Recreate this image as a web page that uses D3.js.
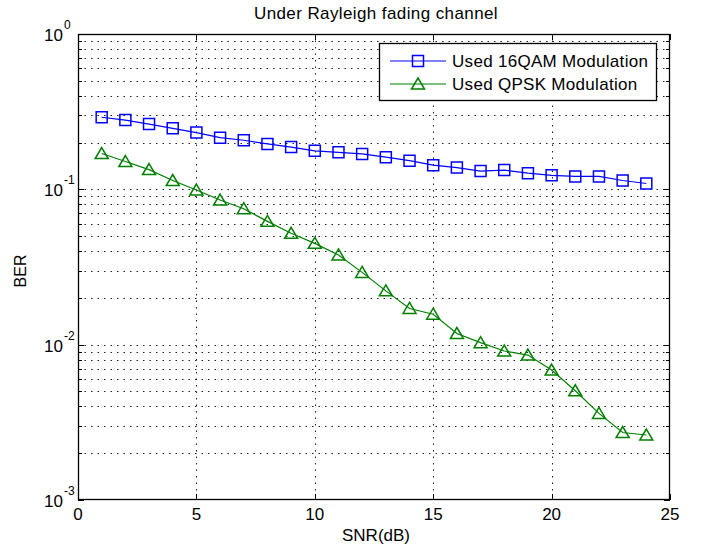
<!DOCTYPE html>
<html><head><meta charset="utf-8">
<script src="https://cdn.jsdelivr.net/npm/d3@7"></script>
<style>body{margin:0;background:#fff}svg{display:block}text{font-family:"Liberation Sans",Arial,sans-serif;fill:#000}</style>
</head><body><svg id="c" width="702" height="549"></svg>
<script>
const snr = [1,2,3,4,5,6,7,8,9,10,11,12,13,14,15,16,17,18,19,20,21,22,23,24];
const ber16qam = [0.291,0.279,0.263,0.247,0.232,0.215,0.207,0.196,0.187,0.177,0.173,0.169,0.161,0.153,0.143,0.138,0.131,0.133,0.127,0.123,0.121,0.121,0.114,0.109];
const berQpsk = [0.170,0.151,0.134,0.114,0.099,0.0853,0.0750,0.0622,0.0521,0.0449,0.0378,0.0292,0.0222,0.0171,0.0157,0.0118,0.0103,0.0091,0.00857,0.00686,0.00505,0.00361,0.00272,0.00262];
const xTicks = [0,5,10,15,20,25];
const yDecades = [0,-1,-2,-3];
const seriesNames = ["Used 16QAM Modulation","Used QPSK Modulation"];
const titleText = "Under Rayleigh fading channel";

const svg = d3.select("#c");
const L=78,R=670,T=34,B=500;
const x = d3.scaleLinear().domain([0,25]).range([L,R]);
const y = d3.scaleLog().domain([1e-3,1]).range([B,T]);
const g = svg.append("g");

const minors=[];
for(let e=-3;e<0;e++) for(let m=1;m<=9;m++) minors.push(m*Math.pow(10,e));
minors.push(1);

// grid
const grid = g.append("g").attr("stroke","#222").attr("stroke-width",1).attr("stroke-dasharray","1.5,5");
minors.forEach(v=>{ if(v>=1||v<=1e-3) return; grid.append("line").attr("x1",L).attr("x2",R).attr("y1",Math.round(y(v))+0.5).attr("y2",Math.round(y(v))+0.5);});
xTicks.slice(1,-1).forEach(v=>grid.append("line").attr("x1",Math.round(x(v))+0.5).attr("x2",Math.round(x(v))+0.5).attr("y1",T).attr("y2",B));

// ticks
const tk = g.append("g").attr("stroke","#000").attr("stroke-width",1);
xTicks.forEach(v=>{const px=Math.round(x(v))+0.5; tk.append("line").attr("x1",px).attr("x2",px).attr("y1",B).attr("y2",B-6); tk.append("line").attr("x1",px).attr("x2",px).attr("y1",T).attr("y2",T+6);});
minors.forEach(v=>{const py=Math.round(y(v))+0.5; const isMaj=Math.abs(Math.log10(v)-Math.round(Math.log10(v)))<1e-9; const len=isMaj?6:4;
 tk.append("line").attr("x1",L).attr("x2",L+len).attr("y1",py).attr("y2",py); tk.append("line").attr("x1",R).attr("x2",R-len).attr("y1",py).attr("y2",py);});

// box
g.append("rect").attr("x",L+0.5).attr("y",T+0.5).attr("width",R-L-1).attr("height",B-T-1).attr("fill","none").attr("stroke","#000").attr("stroke-width",1.3);

// x tick labels
xTicks.forEach(v=>g.append("text").attr("x",x(v)).attr("y",520).attr("text-anchor","middle").attr("font-size",17).text(v));
// y tick labels
yDecades.forEach(e=>{const py=y(Math.pow(10,e));
 g.append("text").attr("x",63).attr("y",py+7).attr("text-anchor","end").attr("font-size",17).text("10");
 g.append("text").attr("x",64).attr("y",py-5).attr("font-size",12).text(String(e));
});

// title & labels
g.append("text").attr("x",376).attr("y",19).attr("text-anchor","middle").attr("font-size",17).attr("letter-spacing",0.4).text(titleText);
g.append("text").attr("x",376).attr("y",541).attr("text-anchor","middle").attr("font-size",17).text("SNR(dB)");
g.append("text").attr("transform","translate(26,271) rotate(-90)").attr("text-anchor","middle").attr("font-size",16).text("BER");

const line = d3.line().x(d=>x(d[0])).y(d=>y(d[1]));
const d1 = snr.map((s,i)=>[s,ber16qam[i]]);
const d2 = snr.map((s,i)=>[s,berQpsk[i]]);
const blue="#0000ff", green="#008000";
g.append("path").datum(d1).attr("d",line).attr("fill","none").attr("stroke",blue).attr("stroke-width",1.2);
g.append("path").datum(d2).attr("d",line).attr("fill","none").attr("stroke",green).attr("stroke-width",1.2);
const sq = d3.symbol().type(d3.symbolSquare).size(121);
const tri = p=>{const [cx,cy]=p; return `M${cx},${cy-6}L${cx+6.5},${cy+5}L${cx-6.5},${cy+5}Z`;};
g.selectAll(".sq").data(d1).join("path").attr("transform",d=>`translate(${x(d[0])},${y(d[1])})`).attr("d",sq).attr("fill","none").attr("stroke",blue).attr("stroke-width",1.5);
g.selectAll(".tr").data(d2).join("path").attr("d",d=>tri([x(d[0]),y(d[1])])).attr("fill","none").attr("stroke",green).attr("stroke-width",1.5);

// legend
const lg = g.append("g");
lg.append("rect").attr("x",379.5).attr("y",43.5).attr("width",277).attr("height",57).attr("fill","#fff").attr("stroke","#000").attr("stroke-width",1.3);
[[blue,61,"sq"],[green,84,"tr"]].forEach(([c,py,m],i)=>{
 lg.append("line").attr("x1",390).attr("x2",446).attr("y1",py).attr("y2",py).attr("stroke",c).attr("stroke-width",1.2);
 if(m==="sq") lg.append("path").attr("transform",`translate(418,${py})`).attr("d",sq).attr("fill","none").attr("stroke",c).attr("stroke-width",1.5);
 else lg.append("path").attr("d",tri([418,py])).attr("fill","none").attr("stroke",c).attr("stroke-width",1.5);
 lg.append("text").attr("x",452).attr("y",py+6).attr("font-size",17).attr("letter-spacing",0.3).text(seriesNames[i]);
});
</script></body></html>
